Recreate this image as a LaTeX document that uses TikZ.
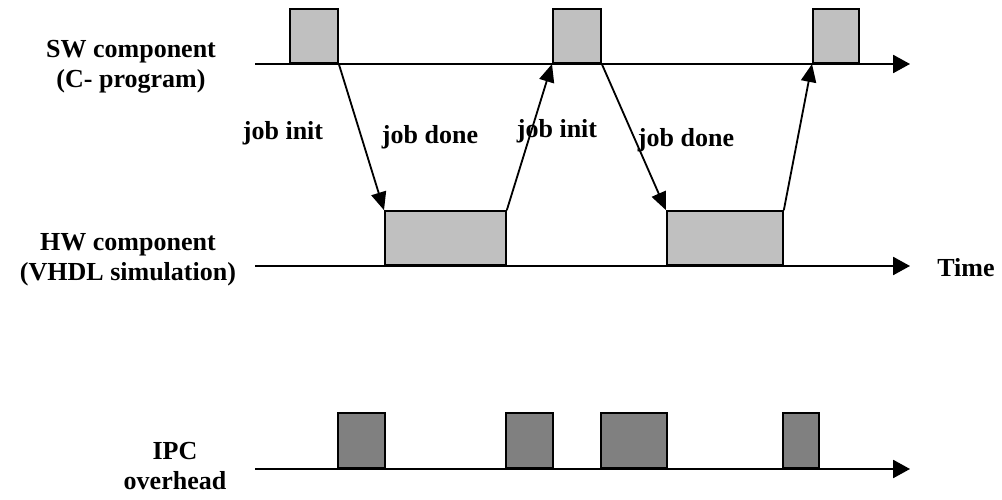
\documentclass[tikz,border=0pt]{standalone}
\usepackage{fontspec}
\setmainfont{Liberation Serif}
\usetikzlibrary{arrows.meta}

\definecolor{lightbox}{HTML}{C0C0C0}
\definecolor{darkbox}{HTML}{808080}

\tikzset{
  lbl/.style={font=\bfseries\fontsize{18.5}{21.5}\selectfont, align=center, inner sep=0pt},
  slot/.style={draw, line width=1.3pt, inner sep=0pt, anchor=south west},
  swslot/.style={slot, fill=lightbox, minimum height=1.35cm},
  ipcslot/.style={slot, fill=darkbox, minimum height=1.375cm},
  axis/.style={line width=1.3pt, -{Triangle[length=0.42cm,width=0.45cm]}},
  job/.style={line width=1.3pt, -{Triangle[length=0.45cm,width=0.38cm]}}
}

\begin{document}
\begin{tikzpicture}
    \useasboundingbox (0,0) rectangle (25.05,12.5);

    % time axes
    \coordinate (swa) at (6.375,10.9);   \coordinate (swb) at (22.75,10.9);
    \coordinate (hwa) at (6.375,5.85);   \coordinate (hwb) at (22.75,5.85);
    \coordinate (ipca) at (6.375,0.775); \coordinate (ipcb) at (22.75,0.775);
    \draw[axis] (swa) -- (swb);
    \draw[axis] (hwa) -- (hwb);
    \draw[axis] (ipca) -- (ipcb);

    % software slots
    \node[swslot, minimum width=1.2cm]  (sw1) at (7.225,10.9) {};
    \node[swslot, minimum width=1.2cm]  (sw2) at (13.8,10.9) {};
    \node[swslot, minimum width=1.15cm] (sw3) at (20.3,10.9) {};

    % hardware slots
    \node[swslot, minimum width=3.025cm] (hw1) at (9.6,5.85) {};
    \node[swslot, minimum width=2.9cm]   (hw2) at (16.65,5.85) {};

    % communication overhead
    \node[ipcslot, minimum width=1.175cm] (ipc1) at (8.425,0.775) {};
    \node[ipcslot, minimum width=1.175cm] (ipc2) at (12.625,0.775) {};
    \node[ipcslot, minimum width=1.65cm]  (ipc3) at (15.0,0.775) {};
    \node[ipcslot, minimum width=0.9cm]   (ipc4) at (19.55,0.775) {};

    % hand-over between the two sides
    \draw[job] (sw1.south east) -- (hw1.north west);
    \draw[job] (hw1.north east) -- (sw2.south west);
    \draw[job] (sw2.south east) -- (hw2.north west);
    \draw[job] (hw2.north east) -- (sw3.south west);

    \node[lbl, anchor=base] (init1) at (7.075,9.0)  {job init};
    \node[lbl, anchor=base] (done1) at (10.75,8.9)  {job done};
    \node[lbl, anchor=base] (init2) at (13.925,9.05) {job init};
    \node[lbl, anchor=base] (done2) at (17.15,8.825) {job done};

    % row labels
    \node[lbl] (swlbl)  at (3.275,10.825) {SW component\\(C- program)};
    \node[lbl] (hwlbl)  at (3.2,6.0)      {HW component\\(VHDL simulation)};
    \node[lbl] (ipclbl) at (4.375,0.85)   {IPC\\overhead};
    \node[lbl, anchor=base] (time) at (24.15,5.575) {Time};
\end{tikzpicture}
\end{document}
